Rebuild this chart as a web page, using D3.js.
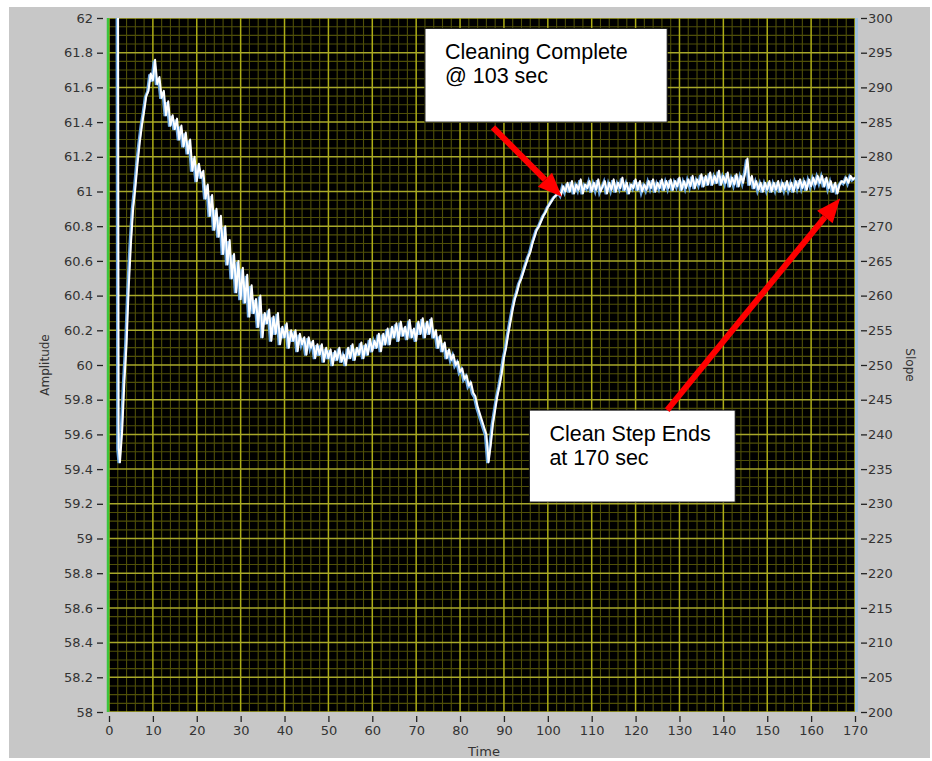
<!DOCTYPE html>
<html>
<head>
<meta charset="utf-8">
<script src="https://cdn.jsdelivr.net/npm/d3@7"></script>
<style>
  body { margin: 0; background: #fff; }
</style>
</head>
<body>
<div id="chart"></div>
<script>
const svgWidth = 932;
const svgHeight = 761;

const plot = { left: 109, right: 855, top: 18, bottom: 712 };

// tick values
const timeTicks = [0, 10, 20, 30, 40, 50, 60, 70, 80, 90, 100, 110, 120, 130, 140, 150, 160, 170];
const ampTicks = [58, 58.2, 58.4, 58.6, 58.8, 59, 59.2, 59.4, 59.6, 59.8, 60, 60.2, 60.4, 60.6, 60.8, 61, 61.2, 61.4, 61.6, 61.8, 62];
const slopeTicks = [-200, -205, -210, -215, -220, -225, -230, -235, -240, -245, -250, -255, -260, -265, -270, -275, -280, -285, -290, -295, -300];

// trace: the start spike, then samples every 0.5 s from 2.5 s
const startSpike = [[2.05, 62.3], [2.2, 59.52]];
const sampleStart = 2.5;
const sampleStep = 0.5;
const amplitude = [
  59.44, 59.62, 59.90, 60.12, 60.45, 60.70, 60.90, 61.02, 61.16, 61.28,
  61.38, 61.46, 61.55, 61.58, 61.68, 61.64, 61.76, 61.62, 61.66, 61.54,
  61.58, 61.44, 61.52, 61.38, 61.44, 61.36, 61.42, 61.30, 61.38, 61.26,
  61.34, 61.22, 61.30, 61.12, 61.20, 61.06, 61.16, 61.08, 61.12, 60.96,
  61.04, 60.86, 60.98, 60.78, 60.90, 60.74, 60.86, 60.64, 60.80, 60.58,
  60.72, 60.50, 60.64, 60.42, 60.60, 60.38, 60.56, 60.36, 60.52, 60.28,
  60.46, 60.30, 60.38, 60.22, 60.40, 60.16, 60.30, 60.24, 60.32, 60.14,
  60.28, 60.18, 60.30, 60.12, 60.22, 60.16, 60.24, 60.10, 60.20, 60.14,
  60.20, 60.08, 60.18, 60.12, 60.16, 60.06, 60.16, 60.10, 60.14, 60.04,
  60.12, 60.06, 60.12, 60.02, 60.10, 60.04, 60.09, 60.00, 60.08, 60.03,
  60.10, 60.02, 60.06, 60.00, 60.10, 60.04, 60.12, 60.03, 60.10, 60.06,
  60.13, 60.04, 60.12, 60.06, 60.15, 60.08, 60.14, 60.10, 60.18, 60.08,
  60.18, 60.12, 60.21, 60.12, 60.22, 60.16, 60.24, 60.14, 60.25, 60.17,
  60.22, 60.15, 60.26, 60.16, 60.21, 60.14, 60.25, 60.18, 60.27, 60.16,
  60.25, 60.18, 60.27, 60.16, 60.20, 60.10, 60.17, 60.08, 60.13, 60.04,
  60.09, 60.03, 60.06, 60.00, 60.02, 59.96, 59.98, 59.92, 59.94, 59.88,
  59.90, 59.84, 59.82, 59.76, 59.72, 59.68, 59.64, 59.60, 59.44, 59.54,
  59.66, 59.74, 59.82, 59.88, 59.95, 60.04, 60.10, 60.18, 60.25, 60.32,
  60.38, 60.42, 60.47, 60.50, 60.54, 60.58, 60.62, 60.65, 60.70, 60.74,
  60.78, 60.80, 60.83, 60.86, 60.88, 60.91, 60.93, 60.95, 60.97, 60.98,
  61.00, 60.98, 61.03, 61.00, 61.05, 61.00, 61.06, 60.99, 61.04, 61.01,
  61.07, 60.99, 61.04, 61.02, 61.06, 61.00, 61.05, 61.01, 61.07, 61.00,
  61.03, 61.06, 60.99, 61.05, 61.01, 61.07, 61.00, 61.05, 61.02, 61.08,
  61.01, 61.05, 60.99, 61.04, 61.02, 61.07, 61.01, 61.06, 61.00, 61.04,
  61.01, 61.06, 61.02, 61.07, 61.00, 61.05, 61.02, 61.07, 61.01, 61.06,
  61.02, 61.07, 61.01, 61.06, 61.03, 61.08, 61.01, 61.06, 61.02, 61.07,
  61.03, 61.09, 61.02, 61.07, 61.04, 61.10, 61.03, 61.09, 61.04, 61.11,
  61.04, 61.09, 61.05, 61.12, 61.04, 61.09, 61.05, 61.11, 61.03, 61.08,
  61.04, 61.10, 61.03, 61.09, 61.05, 61.11, 61.19, 61.04, 61.09, 61.02,
  61.06, 61.01, 61.05, 61.00, 61.05, 61.01, 61.06, 61.00, 61.05, 61.01,
  61.06, 61.00, 61.05, 61.01, 61.06, 61.01, 61.05, 61.00, 61.06, 61.02,
  61.07, 61.02, 61.06, 61.01, 61.07, 61.03, 61.08, 61.04, 61.09, 61.05,
  61.09, 61.03, 61.08, 61.02, 61.06, 61.00, 61.05, 60.99, 61.04, 61.06,
  61.05, 61.08, 61.05, 61.09, 61.07, 61.08
];

// annotations: [time, amplitude] of box corners and arrow ends
const notes = [
  { lines: ["Cleaning Complete", "@ 103 sec"], box: [72.0, 61.94, 127.2, 61.40], tail: [87.5, 61.37], tip: [103.2, 60.97] },
  { lines: ["Clean Step Ends", "at 170 sec"], box: [95.8, 59.74, 142.7, 59.21], tail: [127.2, 59.74], tip: [166.6, 60.96] }
];

const trace = startSpike.concat(amplitude.map((v, i) => [sampleStart + i * sampleStep, v]));

const x = d3.scaleLinear().domain([0, 170]).range([plot.left, plot.right]);
const y = d3.scaleLinear().domain([58, 62]).range([plot.bottom, plot.top]);
const ySlope = d3.scaleLinear().domain([-200, -300]).range([plot.bottom, plot.top]);

const svg = d3.select("#chart").append("svg")
    .attr("width", svgWidth)
    .attr("height", svgHeight)
    .style("font-family", "DejaVu Sans, sans-serif");

svg.append("rect")
    .attr("x", 9).attr("y", 7)
    .attr("width", 921).attr("height", 751)
    .attr("fill", "#c7c7c7");

svg.append("defs").append("clipPath").attr("id", "clip")
  .append("rect")
    .attr("x", plot.left).attr("y", plot.top)
    .attr("width", plot.right - plot.left).attr("height", plot.bottom - plot.top);

svg.append("rect")
    .attr("x", plot.left).attr("y", plot.top)
    .attr("width", plot.right - plot.left).attr("height", plot.bottom - plot.top)
    .attr("fill", "#000");

// grid
const grid = svg.append("g").attr("clip-path", "url(#clip)");
const minorX = d3.range(0, 171, 2).filter(d => d % 10 !== 0);
const minorY = d3.range(0, 81).map(i => 58 + i * 0.05).filter((d, i) => i % 4 !== 0);

grid.selectAll(".mx").data(minorX).enter().append("line")
    .attr("x1", d => x(d)).attr("x2", d => x(d))
    .attr("y1", plot.top).attr("y2", plot.bottom)
    .attr("stroke", "#4f4f08").attr("stroke-width", 1.1);
grid.selectAll(".my").data(minorY).enter().append("line")
    .attr("x1", plot.left).attr("x2", plot.right)
    .attr("y1", d => y(d)).attr("y2", d => y(d))
    .attr("stroke", "#4f4f08").attr("stroke-width", 1.1);
grid.selectAll(".gx").data(timeTicks).enter().append("line")
    .attr("x1", d => x(d)).attr("x2", d => x(d))
    .attr("y1", plot.top).attr("y2", plot.bottom)
    .attr("stroke", "#adad16").attr("stroke-width", 1.5);
grid.selectAll(".gy").data(ampTicks).enter().append("line")
    .attr("x1", plot.left).attr("x2", plot.right)
    .attr("y1", d => y(d)).attr("y2", d => y(d))
    .attr("stroke", "#a8a82a").attr("stroke-width", 1.5);

// trace
const line = d3.line().x(d => x(d[0])).y(d => y(d[1]));
const traceG = svg.append("g").attr("clip-path", "url(#clip)");
traceG.append("path")
    .datum(trace)
    .attr("d", line)
    .attr("transform", "translate(-1,1)")
    .attr("fill", "none")
    .attr("stroke", "#6aa6e0")
    .attr("stroke-width", 3);
traceG.append("path")
    .datum(trace)
    .attr("d", line)
    .attr("fill", "none")
    .attr("stroke", "#fff")
    .attr("stroke-width", 2)
    .attr("stroke-linejoin", "round");

// plot edges
svg.append("line")
    .attr("x1", plot.left - 1).attr("x2", plot.left - 1)
    .attr("y1", plot.top).attr("y2", plot.bottom)
    .attr("stroke", "#3cc43c").attr("stroke-width", 2.5);
svg.append("line")
    .attr("x1", plot.right + 1.5).attr("x2", plot.right + 1.5)
    .attr("y1", plot.top).attr("y2", plot.bottom)
    .attr("stroke", "#9fbfdc").attr("stroke-width", 3);

// axes
function styleAxis(g) {
    g.select(".domain").remove();
    g.selectAll(".tick line").attr("stroke", "#222").attr("stroke-width", 1.3);
    g.selectAll(".tick text").attr("fill", "#333").attr("font-size", 13)
        .attr("font-family", "DejaVu Sans, sans-serif");
}

svg.append("g")
    .attr("transform", `translate(${plot.left - 6},0)`)
    .call(d3.axisLeft(y).tickValues(ampTicks).tickSize(6).tickPadding(4)
        .tickFormat(d => String(+d.toFixed(1))))
    .call(styleAxis);

svg.append("g")
    .attr("transform", `translate(${plot.right + 6},0)`)
    .call(d3.axisRight(ySlope).tickValues(slopeTicks).tickSize(6).tickPadding(1)
        .tickFormat(d => String(-d)))
    .call(styleAxis);

svg.append("g")
    .attr("transform", `translate(0,${plot.bottom + 4})`)
    .call(d3.axisBottom(x).tickValues(timeTicks).tickSize(6).tickPadding(4))
    .call(styleAxis);

svg.append("text")
    .attr("transform", `translate(49,365) rotate(-90)`)
    .attr("text-anchor", "middle")
    .attr("font-size", 12).attr("fill", "#333")
    .text("Amplitude");

svg.append("text")
    .attr("transform", `translate(906,365) rotate(90)`)
    .attr("text-anchor", "middle")
    .attr("font-size", 12).attr("fill", "#333")
    .text("Slope");

svg.append("text")
    .attr("x", 484).attr("y", 756)
    .attr("text-anchor", "middle")
    .attr("font-size", 13).attr("fill", "#333")
    .text("Time");

// annotations
const ann = svg.append("g");
notes.forEach(n => {
    const [t0, v0, t1, v1] = n.box;
    ann.append("rect")
        .attr("x", x(t0)).attr("y", y(v0))
        .attr("width", x(t1) - x(t0)).attr("height", y(v1) - y(v0))
        .attr("fill", "#fff").attr("stroke", "#111").attr("stroke-width", 1);
    n.lines.forEach((s, i) => {
        ann.append("text")
            .attr("x", x(t0) + 20)
            .attr("y", y(v0) + 31 + i * 24)
            .style("font-family", "'Liberation Sans', Arial, sans-serif")
            .attr("font-size", 21.5).attr("fill", "#000")
            .text(s);
    });

    const x0 = x(n.tail[0]), y0 = y(n.tail[1]);
    const x1 = x(n.tip[0]), y1 = y(n.tip[1]);
    const ang = Math.atan2(y1 - y0, x1 - x0);
    const headLen = 24, headW = 10;
    const bx = x1 - headLen * Math.cos(ang), by = y1 - headLen * Math.sin(ang);
    ann.append("line")
        .attr("x1", x0).attr("y1", y0).attr("x2", bx).attr("y2", by)
        .attr("stroke", "#ff0000").attr("stroke-width", 6);
    const px = -Math.sin(ang) * headW, py = Math.cos(ang) * headW;
    ann.append("path")
        .attr("d", `M${x1},${y1}L${bx + px},${by + py}L${bx - px},${by - py}Z`)
        .attr("fill", "#ff0000");
});
</script>
</body>
</html>
